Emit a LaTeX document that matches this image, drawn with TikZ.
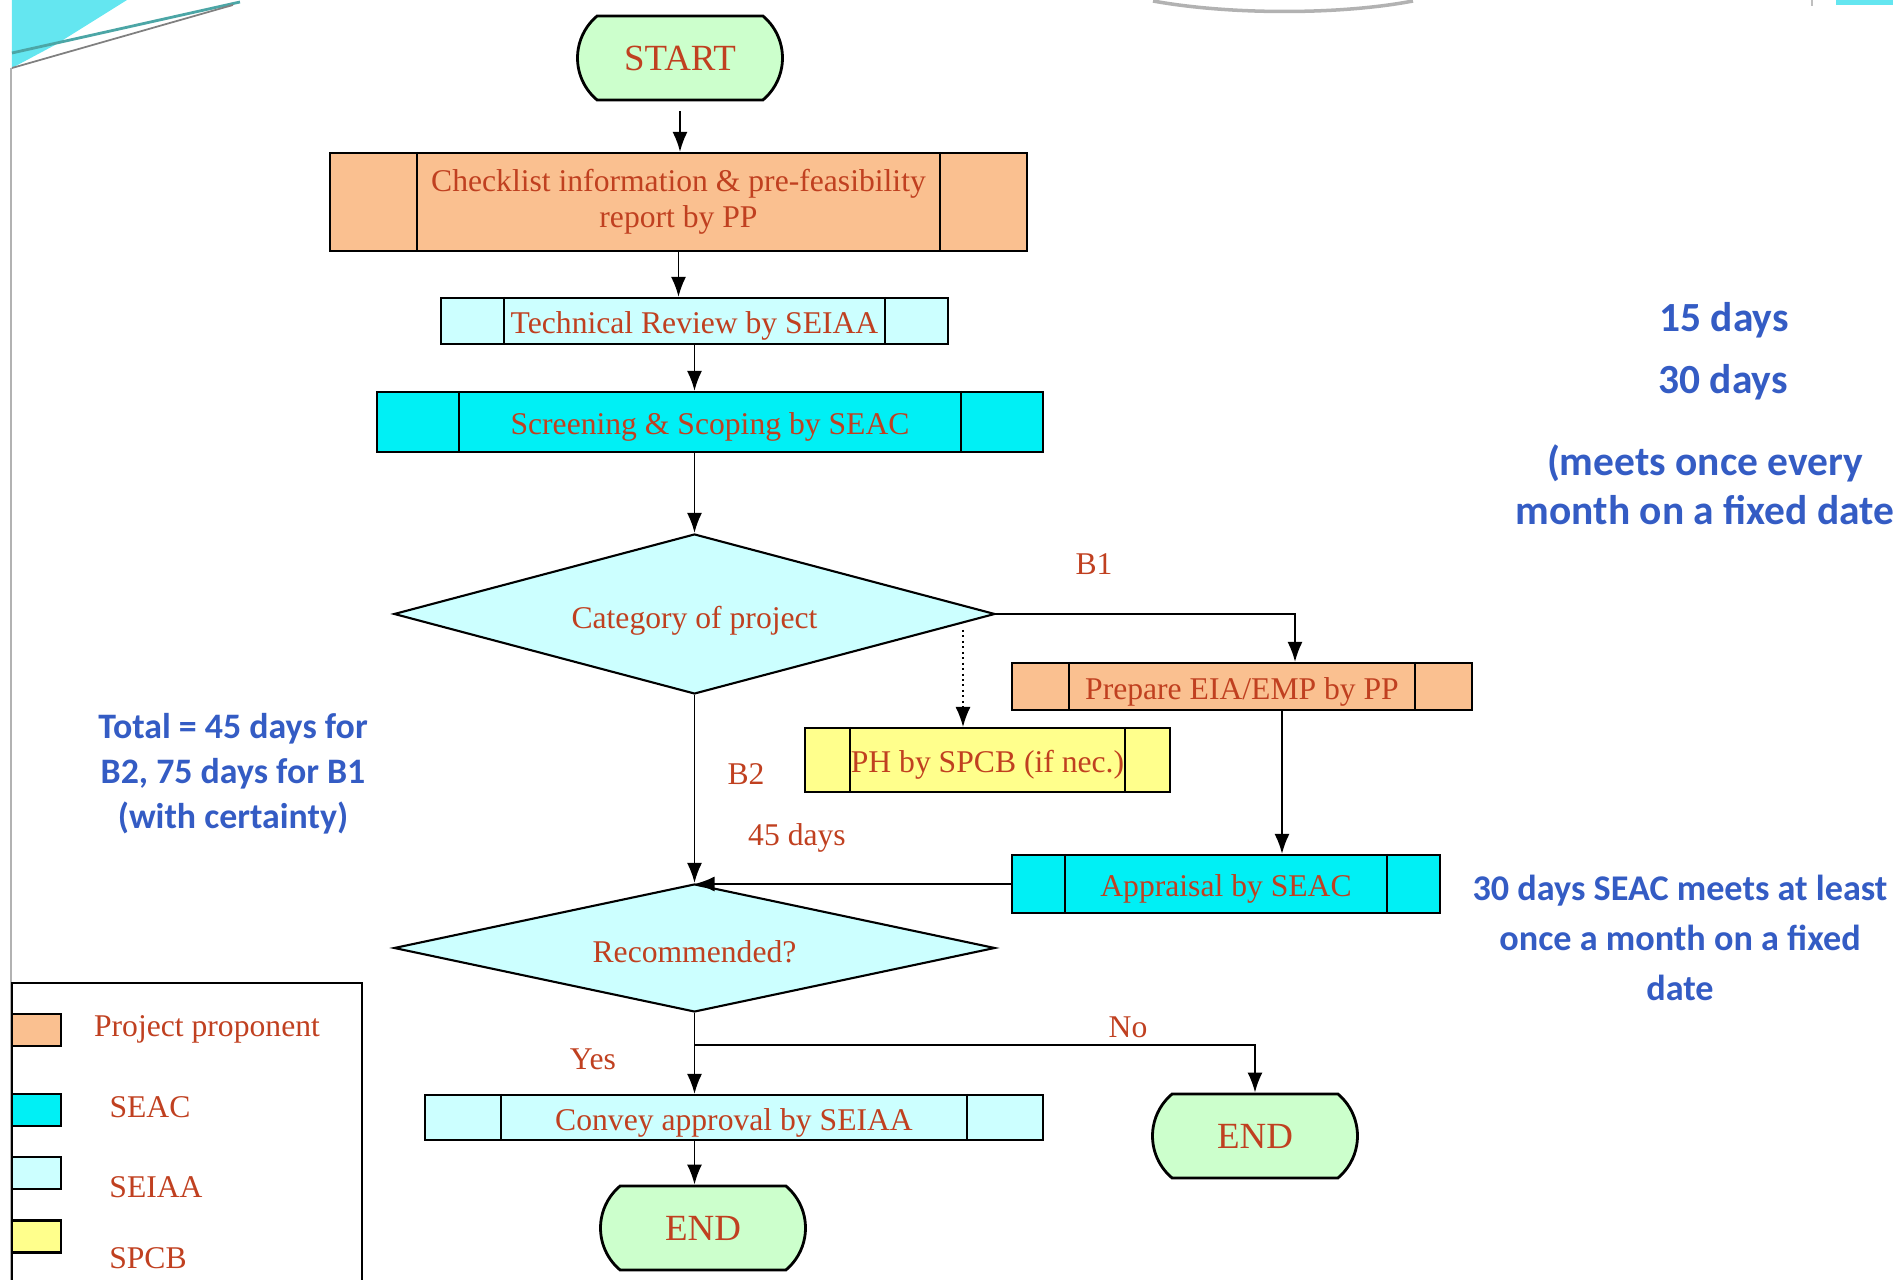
\documentclass[tikz,border=0pt]{standalone}
\usepackage{fontspec}
\setmainfont{Liberation Serif}
\newfontfamily\calibri{Carlito}
\usepackage{tikz}
\usetikzlibrary{shapes,arrows.meta,positioning,calc}

\definecolor{txtred}{RGB}{192,64,32}
\definecolor{pporange}{RGB}{250,192,144}
\definecolor{seaccyan}{RGB}{0,240,245}
\definecolor{seiaacyan}{RGB}{204,255,255}
\definecolor{spcbyellow}{RGB}{255,255,140}
\definecolor{termgreen}{RGB}{204,255,204}
\definecolor{noteblue}{RGB}{52,92,196}
\definecolor{swoosh}{RGB}{100,230,240}

\tikzset{
  proc/.style={draw, line width=0.6pt, rectangle, inner sep=0pt, align=center,
    font=\fontsize{9}{10.4}\selectfont, text=txtred},
  oneline/.style={text height=0.86em, text depth=0.14em},
  terminal/.style={draw, line width=0.8pt, fill=termgreen, rounded rectangle,
    rounded rectangle arc length=100, inner sep=0pt, minimum width=2.05cm,
    minimum height=0.84cm, font=\fontsize{10.5}{12}\selectfont, text=txtred},
  decision/.style={draw, line width=0.6pt, fill=seiaacyan, diamond, aspect=3.75,
    inner sep=0pt, minimum width=6.01cm, font=\fontsize{9}{11}\selectfont, text=txtred,
    text height=0.95em, text depth=0.1em},
  lbl/.style={font=\fontsize{9}{11}\selectfont, text=txtred},
  note/.style={font=\calibri\bfseries\fontsize{10.2}{12.8}\selectfont, text=noteblue, align=center},
  arr/.style={->, line width=0.55pt},
}

\begin{document}
\begin{tikzpicture}[>={Latex[length=2mm,width=1.5mm]}]
    \useasboundingbox (0,0) rectangle (18.93,-12.80);
    \clip (0,0) rectangle (18.93,-12.80);

    % slide background bits
    \fill[swoosh] (0.12,0) -- (1.27,0) -- (0.55,-0.45) -- (0.12,-0.68) -- cycle;
    \draw[teal!70, line width=0.8pt] (0.12,-0.53) -- (2.40,-0.02);
    \draw[gray, line width=0.5pt] (0.12,-0.68) -- (2.33,-0.05);
    \draw[gray!60, line width=1pt] (11.53,-0.01) .. controls (12.3,-0.15) and (13.4,-0.15) .. (14.13,-0.01);
    \fill[swoosh] (18.36,0) rectangle (18.93,-0.05);
    \draw[gray!50] (18.12,0) -- (18.12,-0.06);
    \draw[gray!60, line width=0.5pt] (0.11,-0.68) -- (0.11,-12.80);

    % flow
    \node[terminal] (start) at (6.80,-0.58) {START};
    \node[proc, fill=pporange, minimum width=6.97cm, minimum height=0.98cm] (check) at (6.785,-2.02)
        {Checklist information \& pre-feasibility\\report by PP};
    \node[proc, oneline, fill=seiaacyan, minimum width=5.07cm, minimum height=0.46cm] (tech) at (6.945,-3.21)
        {Technical Review by SEIAA};
    \node[proc, oneline, fill=seaccyan, minimum width=6.66cm, minimum height=0.60cm] (screen) at (7.10,-4.22)
        {Screening \& Scoping by SEAC};
    \node[decision, minimum height=1.60cm] (cat) at (6.945,-6.14) {Category of project};
    \node[proc, oneline, fill=pporange, minimum width=4.60cm, minimum height=0.47cm] (prep) at (12.42,-6.865)
        {Prepare EIA/EMP by PP};
    \node[proc, oneline, fill=spcbyellow, minimum width=3.65cm, minimum height=0.64cm] (ph) at (9.875,-7.60)
        {PH by SPCB (if nec.)};
    \node[proc, oneline, fill=seaccyan, minimum width=4.28cm, minimum height=0.58cm] (appr) at (12.26,-8.84)
        {Appraisal by SEAC};
    \node[decision, minimum height=1.28cm] (rec) at (6.945,-9.48) {Recommended?};
    \node[proc, oneline, fill=seiaacyan, minimum width=6.18cm, minimum height=0.45cm] (conv) at (7.34,-11.175)
        {Convey approval by SEIAA};
    \node[terminal] (endyes) at (7.03,-12.28) {END};
    \node[terminal] (endno) at (12.55,-11.36) {END};

    % side bars of the process boxes
    \foreach \n/\d in {check/8.8mm, tech/6.4mm, screen/8.3mm, prep/5.8mm, ph/4.6mm, appr/5.4mm, conv/7.7mm}
        \draw[line width=0.6pt] ([xshift=\d]\n.north west) -- ([xshift=\d]\n.south west)
            ([xshift=-\d]\n.north east) -- ([xshift=-\d]\n.south east);

    \draw[arr] ([yshift=-1mm]start.south) -- (start.south |- check.north);
    \draw[arr] (check.south) -- (check.south |- tech.north);
    \draw[arr] (tech.south) -- (tech.south |- screen.north);
    \draw[arr] (cat.north |- screen.south) -- (cat.north);
    \draw[arr] (cat.east) -| ([xshift=5.3mm]prep.north);
    \node[lbl] (b1) at (10.94,-5.64) {B1};
    \coordinate (phtap) at (9.63,-6.30);
    \draw[arr, densely dotted, line width=0.4pt] (phtap) -- (phtap |- ph.north);
    \draw[arr] ([xshift=4mm]prep.south) -- ([xshift=4mm]prep.south |- appr.north);
    \draw[arr] (cat.south) -- (rec.north);
    \draw[arr] (appr.west) -- (appr.west -| rec.north);
    \node[lbl] (b2) at (7.46,-7.74) {B2};
    \node[lbl] (d45) at (7.97,-8.38) {45 days};
    \draw[arr] (rec.south) -- (rec.south |- conv.north);
    \coordinate (split) at (6.945,-10.45);
    \draw[arr] (split) -| (endno.north);
    \node[lbl] (yes) at (5.93,-10.59) {Yes};
    \node[lbl] (no) at (11.28,-10.27) {No};
    \draw[arr] (rec.south |- conv.south) -- (rec.south |- endyes.north);

    % timing notes
    \node[note, font=\calibri\bfseries\fontsize{11.8}{14}\selectfont] (n15) at (17.24,-3.20) {15 days};
    \node[note, font=\calibri\bfseries\fontsize{11.8}{14}\selectfont] (n30) at (17.23,-3.82) {30 days};
    \node[note, font=\calibri\bfseries\fontsize{11.8}{13.9}\selectfont] (nmeets) at (17.05,-4.85)
        {(meets once every\\month on a fixed date};
    \node[note] (ntotal) at (2.33,-7.74) {Total = 45 days for\\B2, 75 days for B1\\(with certainty)};
    \node[note, font=\calibri\bfseries\fontsize{10.3}{14.2}\selectfont] (nseac) at (16.80,-9.38)
        {30 days SEAC meets at least\\once a month on a fixed\\date};

    % legend
    \draw[line width=0.6pt] (0.12,-9.83) rectangle (3.62,-13.2);
    \foreach \c/\y in {pporange/10.30, seaccyan/11.10, seiaacyan/11.73, spcbyellow/12.365}
        \node[draw, line width=0.6pt, fill=\c, minimum width=0.49cm, minimum height=0.32cm, inner sep=0pt]
            (sw-\c) at (0.365,-\y) {};
    \node[lbl] (lpp) at (2.07,-10.29) {Project proponent};
    \node[lbl] (lseac) at (1.50,-11.07) {SEAC};
    \node[lbl] (lseiaa) at (1.56,-11.87) {SEIAA};
    \node[lbl] (lspcb) at (1.48,-12.58) {SPCB};
\end{tikzpicture}
\end{document}
